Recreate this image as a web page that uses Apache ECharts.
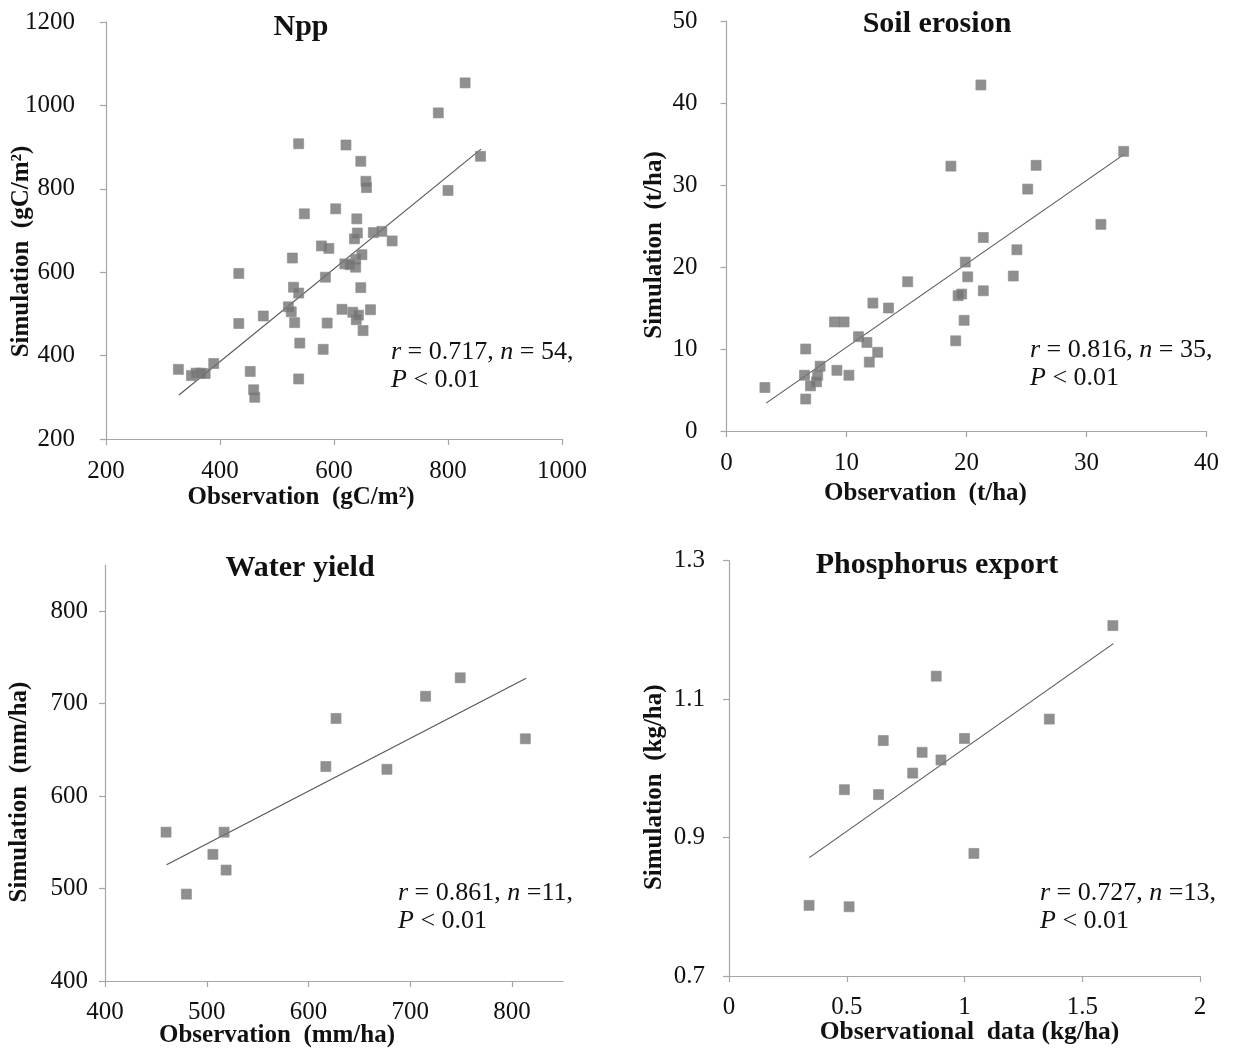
<!DOCTYPE html>
<html>
<head>
<meta charset="utf-8">
<script src="https://cdn.jsdelivr.net/npm/echarts@6/dist/echarts.min.js"></script>
<style>
html,body{margin:0;padding:0;background:#fff}
#main{width:1234px;height:1049px}
</style>
</head>
<body>
<div id="main"></div>
<script>
// Npp (gC/m2)
var nppObs = [538,548,603,578,591,527,433,585,529,538,520,525,531,476,433,588,614,540,581,538,
              327,350,358,366,374,389,453,459,461,830,783,857,800,621,647,656,657,640,641,636,
              669,684,702,619,638,649,638,647,633,639,651,664,643,628];
var nppSim = [908,740,752,663,657,634,597,588,564,550,517,505,479,495,477,478,511,430,415,344,
              367,352,358,358,357,381,362,318,300,1054,982,878,796,905,866,818,803,728,694,680,
              695,698,675,620,631,642,612,563,504,486,460,510,497,618];
var nppFit = [[328, 305.6], [858, 895]];

// Soil erosion (t/ha)
var soilObs = [18.7,19.9,20.1,19.3,19.6,19.8,19.1,15.1,12.2,13.5,9.0,9.8,11.0,11.7,12.6,11.9,6.6,7.8,
               6.5,7.6,7.5,7.0,9.2,10.2,3.2,6.6,21.2,25.8,33.1,25.1,31.2,21.4,24.2,23.9,21.4];
var soilSim = [32.3,20.6,18.8,16.5,16.7,13.5,11.0,18.2,15.6,15.0,13.3,13.3,11.5,10.8,9.6,8.4,10.0,7.9,
               6.8,6.8,6.0,5.5,7.4,6.8,5.3,3.9,42.2,32.4,34.1,29.5,25.2,23.6,22.1,18.9,17.1];
var soilFit = [[3.3, 3.4], [33.1, 33.7]];

// Water yield (mm/ha)
var waterObs = [460,517,506,519,480,617,627,677,715,749,813];
var waterSim = [561,561,537,520,494,632,684,629,708,728,662];
var waterFit = [[460.5, 525.7], [813.8, 727.6]];

// Phosphorus export (kg/ha)
var phosObs = [1.63,0.88,1.36,0.655,1.0,0.82,0.90,0.78,0.49,0.635,1.04,0.34,0.51];
var phosSim = [1.206,1.133,1.071,1.040,1.043,1.023,1.012,0.993,0.969,0.962,0.877,0.802,0.800];
var phosFit = [[0.341, 0.871], [1.632, 1.180]];

var FONT = '"Liberation Serif", "Times New Roman", serif' ;
var AXIS_COLOR = '#a6a6a6' ;

function pairs(xs, ys)
{
	var out = [] ;
	for( var i = 0 ; i < xs.length ; i++ )
	{
		out.push( [ xs[i], ys[i] ] ) ;
	}
	return out ;
}

function makeAxis(gi, min, max, interval, name, gap, pad, labelMargin, hideMax, nameSize)
{
	return {
		type: 'value',
		gridIndex: gi,
		min: min,
		max: max,
		interval: interval,
		name: name,
		nameLocation: 'middle',
		nameGap: gap,
		nameMoveOverlap: false,
		nameTextStyle: { fontFamily: FONT, fontWeight: 'bold', fontSize: nameSize || 25, color: '#111', padding: pad },
		axisLine: { show: true, onZero: false, lineStyle: { color: AXIS_COLOR, width: 1.2 } },
		axisTick: { show: true, length: 6, inside: false, lineStyle: { color: AXIS_COLOR, width: 1.2 } },
		axisLabel: {
			fontFamily: FONT, fontSize: 25, color: '#111', margin: labelMargin, showMaxLabel: !hideMax,
			formatter: function (v) { return String( parseFloat( Number(v).toFixed(4) ) ) ; }
		},
		splitLine: { show: false }
	} ;
}

function scatterOf(idx, data)
{
	return {
		type: 'scatter',
		xAxisIndex: idx, yAxisIndex: idx,
		symbol: 'rect',
		symbolSize: 10,
		data: data,
		itemStyle: { color: '#737373', borderColor: '#8a8a8a', borderWidth: 0.8 },
		z: 3
	} ;
}

function fitOf(idx, data)
{
	return {
		type: 'line',
		xAxisIndex: idx, yAxisIndex: idx,
		data: data,
		showSymbol: false,
		symbol: 'none',
		lineStyle: { color: '#555', width: 1.1 },
		silent: true,
		z: 2
	} ;
}

function titleText(x, y, txt)
{
	return {
		type: 'text', x: x, y: y,
		style: { text: txt, fontFamily: FONT, fontWeight: 'bold', fontSize: 30, fill: '#111', align: 'center', verticalAlign: 'middle' }
	} ;
}

function statText(x, y, r, n, sep)
{
	return {
		type: 'text', x: x, y: y,
		style: {
			text: '{i|r} = ' + r + ', {i|n} ' + sep + n + ',\n{i|P} < 0.01',
			fontFamily: FONT, fontSize: 26, fill: '#111', lineHeight: 28,
			rich: { i: { fontStyle: 'italic', fontFamily: FONT, fontSize: 26, fill: '#111' } }
		}
	} ;
}

function initPage()
{
	var chart = echarts.init( document.getElementById('main') ) ;

	var option = {
		backgroundColor: '#fff',
		animation: false,
		grid: [
			{ left: 106, top: 22, width: 456, height: 417, outerBoundsMode: 'none' },
			{ left: 726.5, top: 21, width: 480, height: 410, outerBoundsMode: 'none' },
			{ left: 105, top: 565, width: 458, height: 416, outerBoundsMode: 'none' },
			{ left: 729, top: 560.5, width: 471, height: 415.5, outerBoundsMode: 'none' }
		],
		xAxis: [
			makeAxis(0, 200, 1000, 200, 'Observation  (gC/m\u00b2)', 46, [0, 66, 0, 0], 20, false),
			makeAxis(1, 0, 40, 10, 'Observation  (t/ha)', 50, [0, 82, 0, 0], 20, false),
			makeAxis(2, 400, 850, 100, 'Observation  (mm/ha)', 42, [0, 114, 0, 0], 19, true),
			makeAxis(3, 0, 2, 0.5, 'Observational  data (kg/ha)', 43, [0, 0, 0, 10], 19, false, 25.5)
		],
		yAxis: [
			makeAxis(0, 200, 1200, 200, 'Simulation  (gC/m\u00b2)', 72, [0, 42, 0, 0], 31, false),
			makeAxis(1, 0, 50, 10, 'Simulation  (t/ha)', 59, [0, 38, 0, 0], 29, false),
			makeAxis(2, 400, 850, 100, 'Simulation  (mm/ha)', 73, [0, 38, 0, 0], 17, true),
			makeAxis(3, 0.7, 1.3, 0.2, 'Simulation  (kg/ha)', 62, [0, 38, 0, 0], 24, false)
		],
		series: [
			fitOf(0, nppFit), scatterOf(0, pairs(nppObs, nppSim)),
			fitOf(1, soilFit), scatterOf(1, pairs(soilObs, soilSim)),
			fitOf(2, waterFit), scatterOf(2, pairs(waterObs, waterSim)),
			fitOf(3, phosFit), scatterOf(3, pairs(phosObs, phosSim))
		],
		graphic: [
			titleText(301, 27, 'Npp'),
			titleText(937, 24, 'Soil erosion'),
			titleText(300, 568, 'Water yield'),
			titleText(937, 565, 'Phosphorus export'),
			statText(391, 338, '0.717', '54', '= '),
			statText(1030, 336, '0.816', '35', '= '),
			statText(398, 879, '0.861', '11', '='),
			statText(1040, 879, '0.727', '13', '=')
		]
	} ;

	chart.setOption( option ) ;
}

initPage() ;
</script>
</body>
</html>
